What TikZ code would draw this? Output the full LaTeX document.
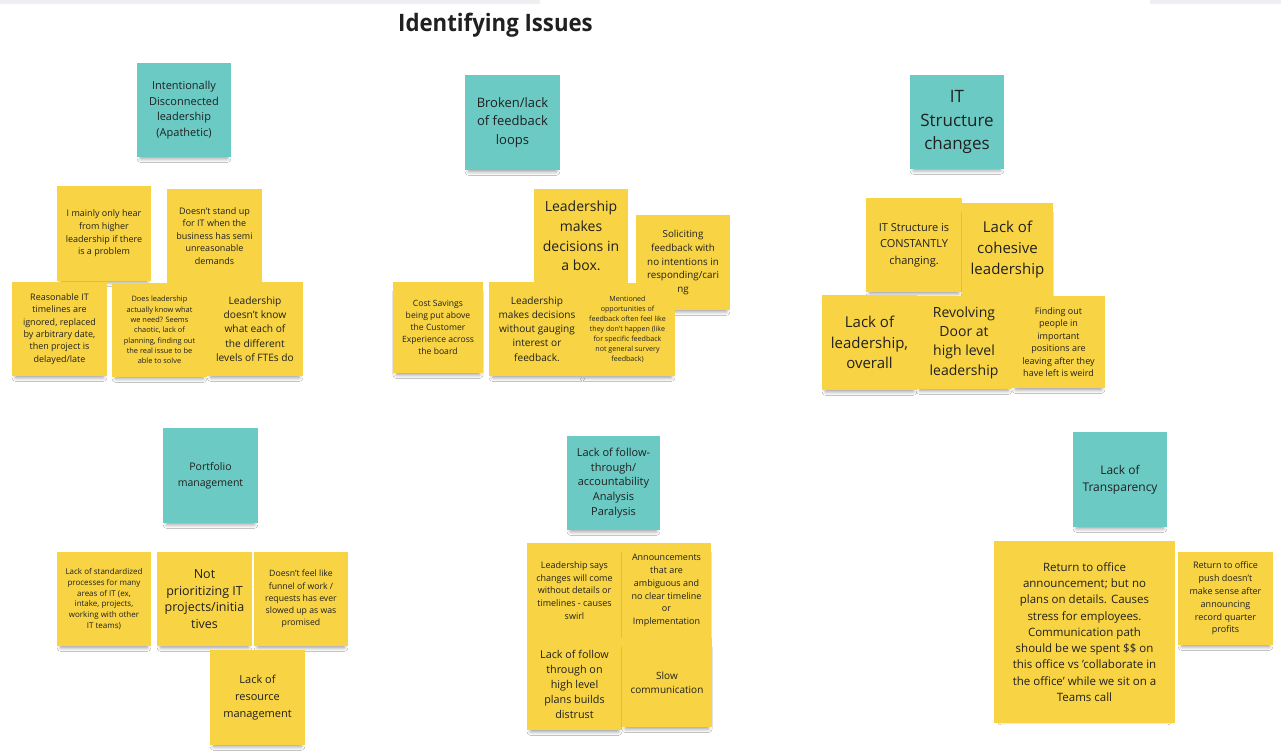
\documentclass[tikz,border=0pt]{standalone}
\usepackage{fontspec}
\setmainfont{Open Sans}
\usetikzlibrary{shadows.blur}
\definecolor{yel}{RGB}{248,212,68}
\definecolor{tealnote}{RGB}{108,202,196}
\definecolor{ink}{RGB}{32,32,32}
\definecolor{barg}{RGB}{238,239,243}
\newcommand\fsz[2]{\fontsize{#1}{#2}\selectfont}
\tikzset{
  note/.style={rectangle, inner sep=1pt, align=center, text=ink,
    blur shadow={shadow xshift=0pt, shadow yshift=-6pt, shadow blur radius=4pt, shadow opacity=40, shadow scale=0.92}},
  yelnote/.style={note, fill=yel},
  topic/.style={note, fill=tealnote},
  sq/.style 2 args={minimum width=#1pt, minimum height=#2pt},
}
\begin{document}
\begin{tikzpicture}[x=1pt,y=-1pt]
\fill[white] (0,0) rectangle (1281,754);
\useasboundingbox (0,0) rectangle (1281,754);
\fill[barg] (0,0) rectangle (540,4);
\fill[barg] (1150,0) rectangle (1281,4);

\node[font=\bfseries\fsz{24}{28}, text=ink, inner sep=0pt] (title) at (495.5,25.5) {\scalebox{0.925}[1]{Identifying Issues}};

% cluster 1
\node[topic, sq={94}{94}, font=\fsz{11}{15.7}] (t1) at (184,110) {Intentionally\\Disconnected\\leadership\\(Apathetic)};
\node[yelnote, sq={94}{95}, font=\fsz{9}{12.7}] (n11) at (104,233.5) {I mainly only hear\\from higher\\leadership if there\\is a problem};
\node[yelnote, sq={95}{94}, font=\fsz{9}{12.5}] (n12) at (214.5,236) {Doesn't stand up\\for IT when the\\business has semi\\unreasonable\\demands};
\node[yelnote, sq={95}{94}, font=\fsz{9}{12.3}] (n13) at (59.5,329) {Reasonable IT\\timelines are\\ignored, replaced\\by arbitrary date,\\then project is\\delayed/late};
\node[yelnote, sq={95}{94}, font=\fsz{7.4}{10.3}] (n14) at (159.5,330) {Does leadership\\actually know what\\we need? Seems\\chaotic, lack of\\planning, finding out\\the real issue to be\\able to solve};
\node[yelnote, sq={96}{94}, font=\fsz{10.2}{14.3}] (n15) at (255,329) {Leadership\\doesn't know\\what each of\\the different\\levels of FTEs do};

% cluster 2
\node[topic, sq={95}{95}, font=\fsz{13}{18.5}] (t2) at (512.5,122.5) {Broken/lack\\of feedback\\loops};
\node[yelnote, sq={94}{94}, font=\fsz{14}{19.7}] (n21) at (581,236) {Leadership\\makes\\decisions in\\a box.};
\node[yelnote, sq={94}{95}, font=\fsz{9.8}{13.7}] (n22) at (683,262.5) {Soliciting\\feedback with\\no intentions in\\responding/cari\\ng};
\node[yelnote, sq={90}{91}, font=\fsz{8.6}{12}] (n23) at (438,327.5) {Cost Savings\\being put above\\the Customer\\Experience across\\the board};
\node[yelnote, sq={96}{94}, font=\fsz{10.1}{14.2}] (n24) at (537,329) {Leadership\\makes decisions\\without gauging\\interest or\\feedback.};
\node[yelnote, sq={95}{93}, font=\fsz{7.1}{10}] (n25) at (627.5,329.5) {Mentioned\\opportunities of\\feedback often feel like\\they don't happen (like\\for specific feedback\\not general survery\\feedback)};

% cluster 3
\node[topic, sq={94}{94}, font=\fsz{17}{23.5}] (t3) at (957,122) {IT\\Structure\\changes};
\node[yelnote, sq={96}{94}, font=\fsz{11}{16.5}] (n31) at (914,245) {IT Structure is\\CONSTANTLY\\changing.};
\node[yelnote, sq={91}{94}, font=\fsz{15}{21}] (n32) at (1007.5,250) {Lack of\\cohesive\\leadership};
\node[yelnote, sq={95}{95}, font=\fsz{15}{20.7}] (n33) at (869.5,342.5) {Lack of\\leadership,\\overall};
\node[yelnote, sq={96}{93}, font=\fsz{14}{19.3}] (n34) at (964,342.5) {Revolving\\Door at\\high level\\leadership};
\node[yelnote, sq={93}{92}, font=\fsz{9}{12.5}] (n35) at (1058.5,342) {Finding out\\people in\\important\\positions are\\leaving after they\\have left is weird};

% cluster 4
\node[topic, sq={95}{95}, font=\fsz{10.5}{16}] (t4) at (210.5,475.5) {Portfolio\\management};
\node[yelnote, sq={94}{94}, font=\fsz{8}{10.8}] (n41) at (104,599) {Lack of standardized\\processes for many\\areas of IT (ex,\\intake, projects,\\working with other\\IT teams)};
\node[yelnote, sq={95}{94}, font=\fsz{12.5}{16.7}] (n42) at (204.5,599) {Not\\prioritizing IT\\projects/initia\\tives};
\node[yelnote, sq={94}{94}, font=\fsz{8.7}{12.2}] (n43) at (301,599) {Doesn't feel like\\funnel of work /\\requests has ever\\slowed up as was\\promised};
\node[yelnote, sq={95}{95}, font=\fsz{11}{16.7}] (n44) at (257.5,697.5) {Lack of\\resource\\management};

% cluster 5
\node[topic, sq={93}{94}, font=\fsz{11}{14.8}] (t5) at (613.5,483) {Lack of follow-\\through/\\accountability\\Analysis\\Paralysis};
\node[yelnote, sq={95}{95}, font=\fsz{9}{12.7}] (n51) at (574.5,590.5) {Leadership says\\changes will come\\without details or\\timelines - causes\\swirl};
\node[yelnote, sq={89}{95}, font=\fsz{9}{12.7}] (n52) at (666.5,590.5) {Announcements\\that are\\ambiguous and\\no clear timeline\\or\\Implementation};
\node[yelnote, sq={95}{92}, font=\fsz{10.8}{15}] (n53) at (574.5,684) {Lack of follow\\through on\\high level\\plans builds\\distrust};
\node[yelnote, sq={90}{89}, font=\fsz{10}{14.3}] (n54) at (667,682.5) {Slow\\communication};

% cluster 6
\node[topic, sq={94}{95}, font=\fsz{12}{16.7}] (t6) at (1120,479.5) {Lack of\\Transparency};
\node[yelnote, sq={181}{182}, font=\fsz{11.5}{16.3}] (n61) at (1084.5,632) {Return to office\\announcement; but no\\plans on details. Causes\\stress for employees.\\Communication path\\should be we spent \$\$ on\\this office vs 'collaborate in\\the office' while we sit on a\\Teams call};
\node[yelnote, sq={95}{93}, font=\fsz{9}{12.8}] (n62) at (1225.5,598.5) {Return to office\\push doesn't\\make sense after\\announcing\\record quarter\\profits};
\end{tikzpicture}
\end{document}
